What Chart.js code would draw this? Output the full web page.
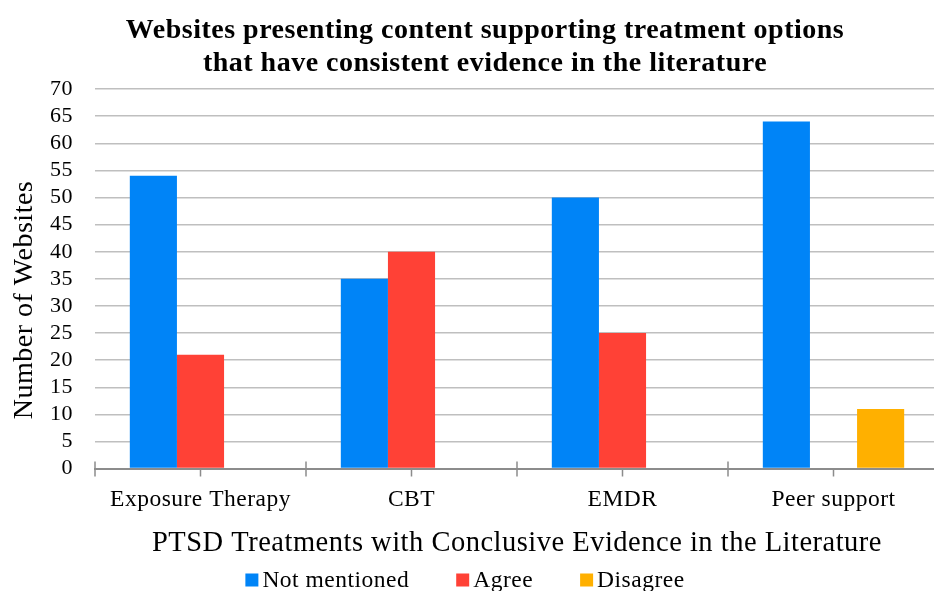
<!DOCTYPE html>
<html>
<head>
<meta charset="utf-8">
<script src="https://cdn.jsdelivr.net/npm/chart.js@4/dist/chart.umd.min.js"></script>
<style>
  html, body { margin: 0; padding: 0; overflow: hidden; background: #ffffff; }
  #wrap { width: 970px; height: 591px; position: relative; }
</style>
</head>
<body>
<div id="wrap"><canvas id="chart"></canvas></div>
<script>
// Treatments and website counts
const treatments = ['Exposure Therapy', 'CBT', 'EMDR', 'Peer support'];
const notMentioned = [54, 35, 50, 64];
const agree = [21, 40, 25, 0];
const disagree = [0, 0, 0, 11];
const yMin = 0;
const yMax = 70;
const yStep = 5;
const yTitle = 'Number of Websites';

const SERIF = '"Liberation Serif", "Times New Roman", serif';
const TRACKING = '0.5px';

// Slightly tracked-out type for every label on the canvas
const tracking = {
  id: 'tracking',
  beforeLayout(chart) { chart.ctx.letterSpacing = TRACKING; },
  beforeDraw(chart) { chart.ctx.letterSpacing = TRACKING; }
};

// Category boundary ticks (crossing the axis) and group-centre ticks (below it)
const axisTicks = {
  id: 'axisTicks',
  afterDatasetsDraw(chart) {
    const x = chart.scales.x;
    const y0 = chart.scales.y.getPixelForValue(0);
    const ctx = chart.ctx;
    const n = chart.data.labels.length;
    const w = x.getPixelForValue(1) - x.getPixelForValue(0);
    ctx.save();
    ctx.strokeStyle = '#8c8c8c';
    ctx.lineWidth = 1.5;
    ctx.beginPath();
    for (let i = 0; i < n; i++) {
      const c = x.getPixelForValue(i);
      ctx.moveTo(c, y0);
      ctx.lineTo(c, y0 + 8);
      const b = c - w / 2;
      ctx.moveTo(b, y0 - 7);
      ctx.lineTo(b, y0 + 8);
    }
    const last = x.getPixelForValue(n - 1) + w / 2;
    ctx.moveTo(last, y0 - 7);
    ctx.lineTo(last, y0 + 8);
    ctx.stroke();
    ctx.restore();
  }
};

// Rotated value-axis title, centred on the whole axis band
const sideTitle = {
  id: 'sideTitle',
  afterDraw(chart, args, opts) {
    const ctx = chart.ctx;
    ctx.save();
    ctx.letterSpacing = TRACKING;
    ctx.font = '28px ' + SERIF;
    ctx.fillStyle = '#000000';
    ctx.textAlign = 'center';
    ctx.textBaseline = 'middle';
    ctx.translate(opts.x, opts.y);
    ctx.rotate(-Math.PI / 2);
    ctx.fillText(opts.text, 0, 0);
    ctx.restore();
  }
};

// Compact legend row along the bottom edge
const bottomLegend = {
  id: 'bottomLegend',
  afterDraw(chart, args, opts) {
    const ctx = chart.ctx;
    const box = 13, gapText = 4, gapItem = 47;
    ctx.save();
    ctx.letterSpacing = TRACKING;
    ctx.font = '23.5px ' + SERIF;
    const items = chart.data.datasets.map(ds => ({
      text: ds.label, color: ds.backgroundColor, w: ctx.measureText(ds.label).width
    }));
    const total = items.reduce((s, it) => s + box + gapText + it.w, 0) + gapItem * (items.length - 1);
    let x = opts.centerX - total / 2;
    const y = opts.centerY;
    ctx.textBaseline = 'alphabetic';
    ctx.textAlign = 'left';
    items.forEach(it => {
      ctx.fillStyle = it.color;
      ctx.fillRect(x, y - box / 2, box, box);
      ctx.fillStyle = '#000000';
      ctx.fillText(it.text, x + box + gapText, y + 7);
      x += box + gapText + it.w + gapItem;
    });
    ctx.restore();
  }
};

new Chart(document.getElementById('chart'), {
  type: 'bar',
  data: {
    labels: treatments,
    datasets: [
      { label: 'Not mentioned', data: notMentioned, backgroundColor: '#0084f7' },
      { label: 'Agree', data: agree, backgroundColor: '#ff4136' },
      { label: 'Disagree', data: disagree, backgroundColor: '#ffb000' }
    ]
  },
  options: {
    responsive: true,
    maintainAspectRatio: false,
    animation: false,
    events: [],
    layout: { padding: { left: 0, right: 0, top: 14, bottom: 26 } },
    datasets: { bar: { categoryPercentage: 0.67, barPercentage: 1.0, borderWidth: 0 } },
    plugins: {
      title: {
        display: true,
        text: ['Websites presenting content supporting treatment options',
               'that have consistent evidence in the literature'],
        color: '#000000',
        font: { family: SERIF, size: 28, weight: 'bold', lineHeight: 1.18 },
        padding: { top: 0, bottom: 9 }
      },
      legend: { display: false },
      sideTitle: { text: yTitle, x: 25, y: 300 },
      bottomLegend: { centerX: 465, centerY: 580 },
      tooltip: { enabled: false }
    },
    scales: {
      x: {
        grid: { display: false },
        border: { display: true, color: '#8c8c8c', width: 2 },
        ticks: { color: '#000000', font: { family: SERIF, size: 23.5 }, padding: 9, autoSkip: false, maxRotation: 0 },
        title: {
          display: true,
          text: 'PTSD Treatments with Conclusive Evidence in the Literature',
          color: '#000000',
          font: { family: SERIF, size: 28.5 },
          padding: { top: 4, bottom: 4 }
        }
      },
      y: {
        min: yMin,
        max: yMax,
        afterFit(scale) { scale.width = 95; },
        grid: { color: '#bfbfbf', lineWidth: 1.5, drawTicks: false },
        border: { display: false },
        ticks: { stepSize: yStep, autoSkip: false, color: '#000000', font: { family: SERIF, size: 22 }, padding: 22 }
      },
      yRight: {
        position: 'right',
        display: true,
        afterFit(scale) { scale.width = 31; },
        grid: { display: false },
        border: { display: false },
        ticks: { display: false }
      }
    }
  },
  plugins: [tracking, axisTicks, sideTitle, bottomLegend]
});
</script>
</body>
</html>
